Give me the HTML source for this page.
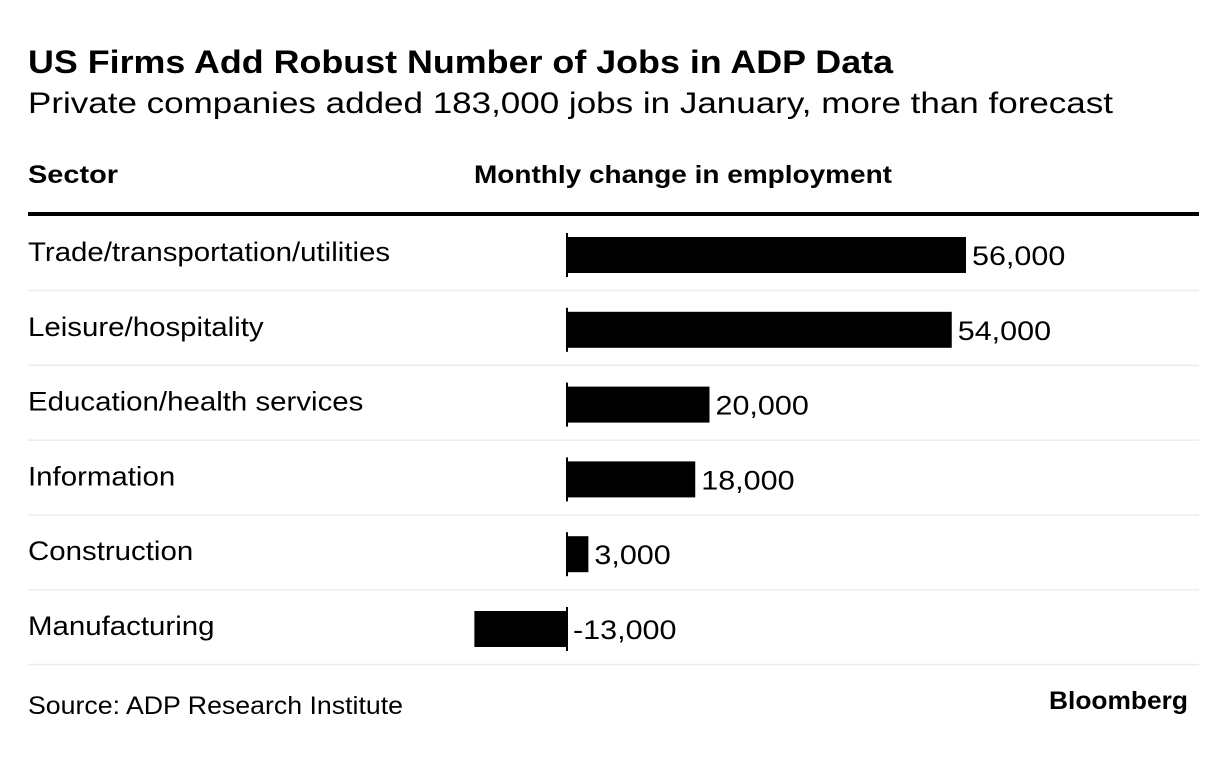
<!DOCTYPE html>
<html><head><meta charset="utf-8"><style>
html,body{margin:0;padding:0;background:#fff}
svg{display:block;font-family:"Liberation Sans",Arial,sans-serif}
</style></head><body>
<svg id="chart" width="1227" height="762" viewBox="0 0 1227 762">
<text x="28" y="73" font-size="32" font-weight="bold" fill="#000" textLength="865" lengthAdjust="spacingAndGlyphs">US Firms Add Robust Number of Jobs in ADP Data</text>
<text x="28" y="113" font-size="30" fill="#000" textLength="1085" lengthAdjust="spacingAndGlyphs">Private companies added 183,000 jobs in January, more than forecast</text>
<text x="28" y="183" font-size="25" font-weight="bold" fill="#000" textLength="90" lengthAdjust="spacingAndGlyphs">Sector</text>
<text x="474" y="183" font-size="25" font-weight="bold" fill="#000" textLength="418" lengthAdjust="spacingAndGlyphs">Monthly change in employment</text>
<rect x="28" y="212" width="1171" height="4" fill="#000"/>
<g id="rows"></g>
<text x="28" y="714" font-size="25" fill="#000" textLength="375" lengthAdjust="spacingAndGlyphs">Source: ADP Research Institute</text>
<text x="1049" y="709" font-size="25" font-weight="bold" fill="#000" textLength="139" lengthAdjust="spacingAndGlyphs">Bloomberg</text>
</svg>
<script>
const categories = ["Trade/transportation/utilities","Leisure/hospitality","Education/health services","Information","Construction","Manufacturing"];
const values = [56000, 54000, 20000, 18000, 3000, -13000];
const valueLabels = ["56,000","54,000","20,000","18,000","3,000","-13,000"];

const NS = "http://www.w3.org/2000/svg";
const zeroX = 567, pxPer = 399/56000;
const x = v => zeroX + v*pxPer;
const rowTop = 216, rowH = 74.8, barH = 36;
const g = document.getElementById('rows');
function mk(tag, attrs){const e=document.createElementNS(NS,tag);for(const k in attrs)e.setAttribute(k,attrs[k]);return e;}
function stretch(t, f){const w=t.getComputedTextLength();t.setAttribute('textLength',(w*f).toFixed(1));t.setAttribute('lengthAdjust','spacingAndGlyphs');}
categories.forEach((c,i)=>{
  const cy = rowTop + rowH*i + 39;
  const lab = mk('text',{x:28,y:cy+6,'font-size':27,fill:'#000'});
  lab.textContent = c;
  
  
  g.appendChild(lab);
  stretch(lab, 1.09);
  const v = values[i];
  const x0 = Math.min(x(0), x(v)), w = Math.abs(x(v)-x(0));
  const bar = mk('rect',{x:x0,y:cy-barH/2,width:w,height:barH,fill:'#000'});
  
  
  g.appendChild(bar);
  const ax = mk('rect',{x:zeroX-1,y:cy-barH/2-4,width:2,height:barH+8,fill:'#000'});
  
  
  g.appendChild(ax);
  const vx = (v>=0 ? x(v) : x(0)) + 6;
  const vl = mk('text',{x:vx,y:cy+10,'font-size':27,fill:'#000'});
  vl.textContent = valueLabels[i];
  
  
  g.appendChild(vl);
  stretch(vl, 1.13);
  const sep = mk('rect',{x:28,y:rowTop+rowH*(i+1)-1,width:1171,height:1.5,fill:'#ececec'});
  
  
  g.appendChild(sep);
});
</script>
</body></html>
